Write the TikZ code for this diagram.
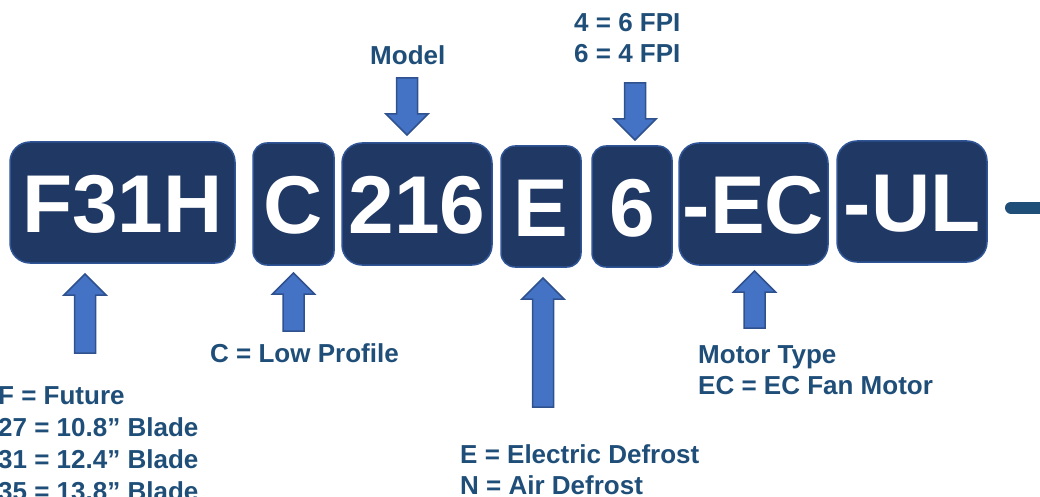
\documentclass[tikz,border=0pt]{standalone}
\usepackage{fontspec}
\setmainfont{Liberation Sans}[BoldFont={Liberation Sans Bold}]
\usepackage{xcolor}

\definecolor{codebox}{HTML}{203864}
\definecolor{codeedge}{HTML}{2F5597}
\definecolor{labelblue}{HTML}{1F4E79}
\definecolor{arrowblue}{HTML}{4472C4}
\definecolor{arrowedge}{HTML}{2F528F}

\tikzset{
  codepart/.style={draw=codeedge, line width=1.5pt, fill=codebox, text=white,
    rounded corners=#1, inner sep=0pt, text height=59pt, text depth=0pt,
    font=\bfseries\fontsize{82}{88}\selectfont},
  codepart/.default=14pt,
  lbl/.style={text=labelblue, inner sep=0pt, anchor=base west,
    font=\bfseries\fontsize{26}{31}\selectfont},
  blockarrow/.style={draw=arrowedge, line width=1.5pt, fill=arrowblue},
}

% block arrow: x, tail y, tip y
\newcommand{\blockarrow}[3]{%
  \pgfmathsetmacro{\hb}{#3+21*sign(#2-#3)}%
  \draw[blockarrow] (#1-10.5,#2) -- (#1-10.5,\hb) -- (#1-21,\hb) -- (#1,#3)
    -- (#1+21,\hb) -- (#1+10.5,\hb) -- (#1+10.5,#2) -- cycle;}

\begin{document}
\begin{tikzpicture}[x=1pt,y=-1pt]
  \useasboundingbox (0,0) rectangle (1040,497);

  % code parts
  \node[codepart=20pt, minimum width=225pt, minimum height=121pt] (f31h) at (122.5,202.5) {F31H};
  \node[codepart, minimum width=81pt, minimum height=122pt] (c) at (293.5,204) {C};
  \node[codepart=20pt, minimum width=150pt, minimum height=122pt] (m216) at (417,204) {216};
  \node[codepart, minimum width=80pt, minimum height=121pt] (e) at (541,206.5) {E};
  \node[codepart, minimum width=80pt, minimum height=121pt] (six) at (632,206.5) {6};
  \node[codepart=20pt, minimum width=149pt, minimum height=122pt] (ec) at (753.5,204) {-EC};
  \node[codepart=20pt, minimum width=150pt, minimum height=121pt] (ul) at (912,201.5) {-UL};

  \coordinate (tail) at (1011,207.5);
  \draw[labelblue, line width=12pt, line cap=round] (tail) -- ++(50,0);

  % labels above
  \node[lbl] (model) at (370,65) {Model};
  \node[lbl] (fpi1) at (574,32) {4 = 6 FPI};
  \node[lbl] (fpi2) at (574,63) {6 = 4 FPI};
  \blockarrow{407}{78}{135}
  \blockarrow{635}{83}{140}

  % labels below
  \blockarrow{85}{353}{274}
  \blockarrow{293.5}{331}{273}
  \blockarrow{543}{407}{278}
  \blockarrow{754.5}{328}{271}

  \node[lbl] (prof) at (210,362) {C = Low Profile};
  \foreach \t [count=\i] in {F = Future, 27 = 10.8” Blade, 31 = 12.4” Blade, 35 = 13.8” Blade}
    \node[lbl] (blade\i) at (-2,372+32*\i) {\t};
  \node[lbl] (motor1) at (698,363) {Motor Type};
  \node[lbl] (motor2) at (698,394) {EC = EC Fan Motor};
  \node[lbl] (defr1) at (460,463) {E = Electric Defrost};
  \node[lbl] (defr2) at (460,494) {N = Air Defrost};
\end{tikzpicture}
\end{document}
